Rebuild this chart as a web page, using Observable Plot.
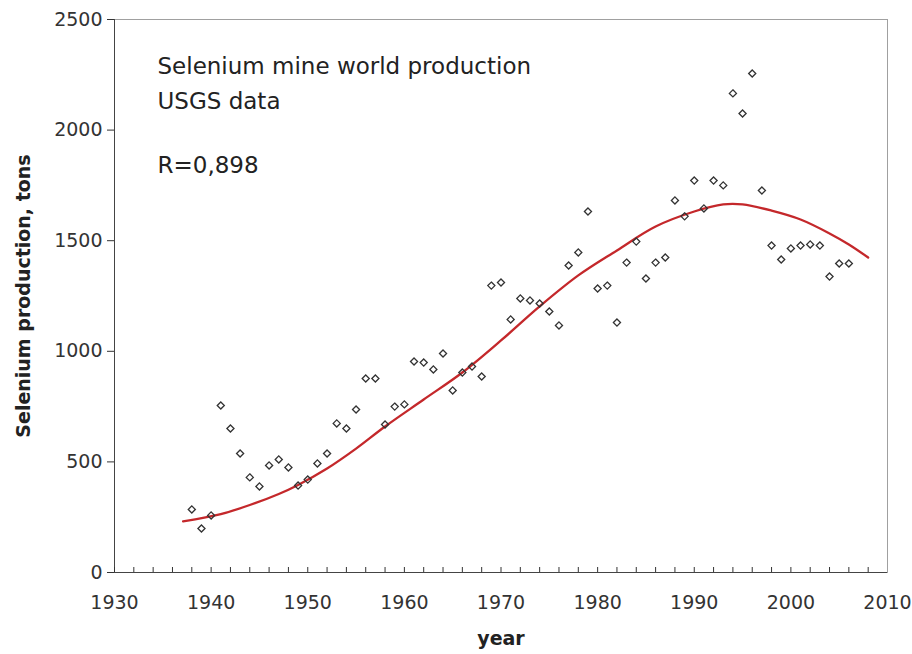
<!DOCTYPE html>
<html><head><meta charset="utf-8">
<script src="https://cdn.jsdelivr.net/npm/d3@7"></script>
<script src="https://cdn.jsdelivr.net/npm/@observablehq/plot@0.6"></script>
<style>body{margin:0;background:#fff}</style>
</head><body><div id="chart"></div>
<script>
// Observed data points (year, tons)
const years = [1938,1939,1940,1941,1942,1943,1944,1945,1946,1947,1948,1949,1950,1951,1952,1953,1954,1955,1956,1957,1958,1959,1960,1961,1962,1963,1964,1965,1966,1967,1968,1969,1970,1971,1972,1973,1974,1975,1976,1977,1978,1979,1980,1981,1982,1983,1984,1985,1986,1987,1988,1989,1990,1991,1992,1993,1994,1995,1996,1997,1998,1999,2000,2001,2002,2003,2004,2005,2006];
const production = [285,199,258,755,651,538,430,389,484,511,475,393,420,493,538,674,651,737,877,877,669,750,760,954,949,918,990,823,904,931,886,1297,1311,1144,1239,1230,1216,1180,1117,1388,1447,1632,1284,1297,1130,1401,1496,1329,1401,1424,1682,1610,1772,1646,1772,1750,2166,2075,2256,1727,1478,1415,1465,1478,1483,1478,1338,1397,1397];

// Trend curve
const trendYears  = [1937.1,1941,1944,1947,1949,1952,1955,1958,1962,1966,1970,1974,1978,1982,1986,1990,1993,1995,1998,2001,2004,2006,2008];
const trendValues = [231,264,305,355,396,470,560,660,782,904,1049,1203,1343,1456,1564,1632,1664,1664,1636,1596,1533,1483,1424];

// Axis ticks
const yTicks = [0,500,1000,1500,2000,2500];
const xTicks = [1930,1940,1950,1960,1970,1980,1990,2000,2010];
const xMinorTicks = [1930,1932,1934,1936,1938,1940,1942,1944,1946,1948,1950,1952,1954,1956,1958,1960,1962,1964,1966,1968,1970,1972,1974,1976,1978,1980,1982,1984,1986,1988,1990,1992,1994,1996,1998,2000,2002,2004,2006,2008];

const titleLines = ["Selenium mine world production", "USGS data", "R=0,898"];

const points = years.map((year, i) => ({year, value: production[i]}));
const trend = trendYears.map((year, i) => ({year, value: trendValues[i]}));

const chart = Plot.plot({
  width: 912, height: 654,
  marginLeft: 114, marginRight: 25, marginTop: 19, marginBottom: 82,
  style: {fontFamily: "DejaVu Sans", background: "#fff", color: "#222"},
  x: {domain: [1930, 2010], label: null},
  y: {domain: [0, 2500], label: null},
  marks: [
    Plot.frame({stroke: "#a0a0a0"}),
    Plot.ruleY([0], {stroke: "#444"}),
    Plot.ruleX([1930], {stroke: "#444"}),
    Plot.axisY(yTicks, {tickSize: 7, tickPadding: 5, fontSize: 19, tickFormat: d => String(d), label: null, color: "#333"}),
    Plot.axisX(xMinorTicks, {tickSize: -5, tickFormat: () => "", label: null, color: "#333"}),
    Plot.axisX(xTicks, {tickSize: 0, tickPadding: 23, fontSize: 19, tickFormat: d => String(d), label: null, color: "#333"}),
    Plot.line(trend, {x: "year", y: "value", stroke: "#c4282b", strokeWidth: 2.3, curve: "catmull-rom"}),
    Plot.dot(points, {x: "year", y: "value", symbol: "diamond2", r: 3.2, stroke: "#333", strokeWidth: 1.3}),
    Plot.text([titleLines[0]], {frameAnchor: "top-left", dx: 43, dy: 54, lineAnchor: "bottom", textAnchor: "start", fontSize: 23, fill: "#222"}),
    Plot.text([titleLines[1]], {frameAnchor: "top-left", dx: 43, dy: 89, lineAnchor: "bottom", textAnchor: "start", fontSize: 23, fill: "#222"}),
    Plot.text([titleLines[2]], {frameAnchor: "top-left", dx: 43, dy: 153, lineAnchor: "bottom", textAnchor: "start", fontSize: 23, fill: "#222"}),
    Plot.text(["year"], {frameAnchor: "bottom", dy: 72, lineAnchor: "bottom", fontWeight: "bold", fontSize: 19, fill: "#222"}),
    Plot.text(["Selenium production, tons"], {frameAnchor: "left", dx: -85, rotate: -90, lineAnchor: "bottom", textAnchor: "middle", fontWeight: "bold", fontSize: 19, fill: "#222"})
  ]
});
document.getElementById("chart").appendChild(chart);
</script>
</body></html>
